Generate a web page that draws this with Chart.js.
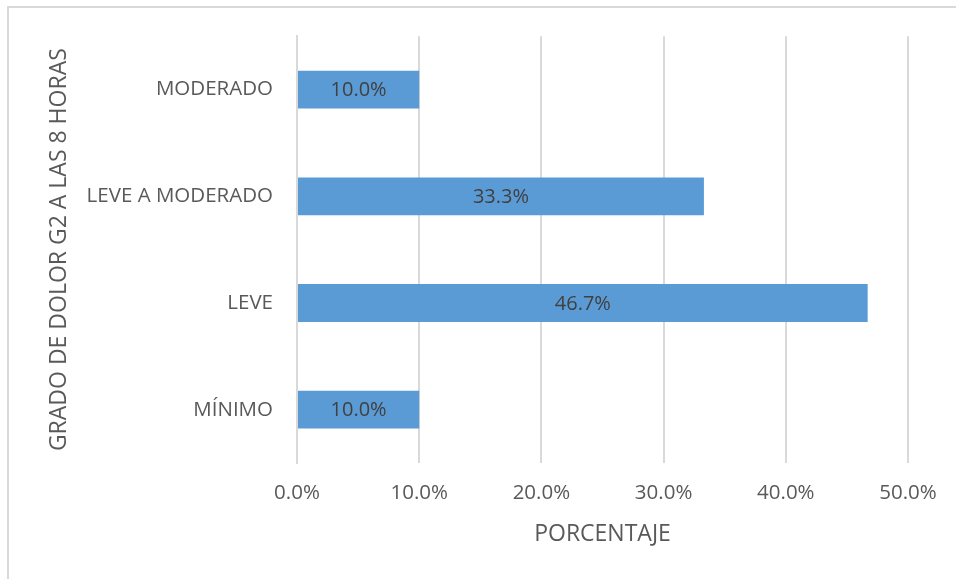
<!DOCTYPE html>
<html lang="es">
<head>
  <meta charset="UTF-8" />
  <title>Grado de dolor G2 a las 8 horas</title>
  <script src="https://cdn.jsdelivr.net/npm/chart.js"></script>
  <style>
    body {
      margin: 0;
      background: #fff;
      overflow: hidden;
    }
    #frame {
      position: absolute;
      left: 7px;
      top: 6px;
      width: 970px;
      height: 600px;
      border: 2px solid #d9d9d9;
    }
    #chart {
      position: absolute;
      left: 0;
      top: 0;
    }
  </style>
</head>
<body>
  <div id="frame"></div>
  <canvas id="chart" width="956" height="579"></canvas>

  <script>
    const categories = ['MODERADO', 'LEVE A MODERADO', 'LEVE', 'MÍNIMO'];
    const percentages = [10.0, 33.3, 46.7, 10.0];
    const xTicks = [0, 10, 20, 30, 40, 50];

    const FONT = '"Open Sans", sans-serif';
    const TEXT = '#595959';

    const fmt = v => v.toFixed(1) + '%';

    // value labels written in the middle of every bar
    const barLabels = {
      id: 'barLabels',
      afterDatasetsDraw(chart) {
        const ctx = chart.ctx;
        const meta = chart.getDatasetMeta(0);
        ctx.save();
        ctx.font = '20px ' + FONT;
        ctx.fillStyle = '#404040';
        ctx.textAlign = 'center';
        ctx.textBaseline = 'middle';
        meta.data.forEach((bar, i) => {
          const cx = (bar.x + bar.base) / 2;
          ctx.fillText(fmt(percentages[i]), cx, bar.y + 1);
        });
        ctx.restore();
      }
    };

    new Chart(document.getElementById('chart'), {
      type: 'bar',
      data: {
        labels: categories,
        datasets: [{
          data: percentages,
          backgroundColor: '#5b9bd5',
          borderWidth: 0,
          barPercentage: 0.355,
          categoryPercentage: 1
        }]
      },
      options: {
        indexAxis: 'y',
        responsive: false,
        animation: false,
        layout: { padding: { top: 35, right: 48, left: 0, bottom: 0 } },
        plugins: {
          legend: { display: false },
          tooltip: { enabled: false }
        },
        scales: {
          x: {
            min: 0,
            max: 50,
            afterBuildTicks: scale => {
              scale.ticks = xTicks.map(v => ({ value: v }));
            },
            afterFit: scale => { scale.height = 116; },
            grid: { color: '#d9d9d9', lineWidth: 2, drawTicks: false },
            border: { display: false },
            ticks: {
              padding: 18,
              color: TEXT,
              font: { family: FONT, size: 20.5 },
              callback: v => fmt(v)
            },
            title: {
              display: true,
              text: 'PORCENTAJE',
              color: TEXT,
              font: { family: FONT, size: 23 },
              padding: { top: 0, bottom: 31 }
            }
          },
          y: {
            afterFit: scale => { scale.width = 297; },
            grid: { display: false, drawTicks: false },
            border: { display: true, color: '#d9d9d9', width: 2 },
            ticks: {
              padding: 24,
              color: TEXT,
              font: { family: FONT, size: 20.5 }
            },
            title: {
              display: true,
              text: 'GRADO DE DOLOR G2 A LAS 8 HORAS',
              color: TEXT,
              font: { family: FONT, size: 23 },
              padding: { top: 46, bottom: 0 }
            }
          }
        }
      },
      plugins: [barLabels]
    });
  </script>
</body>
</html>
